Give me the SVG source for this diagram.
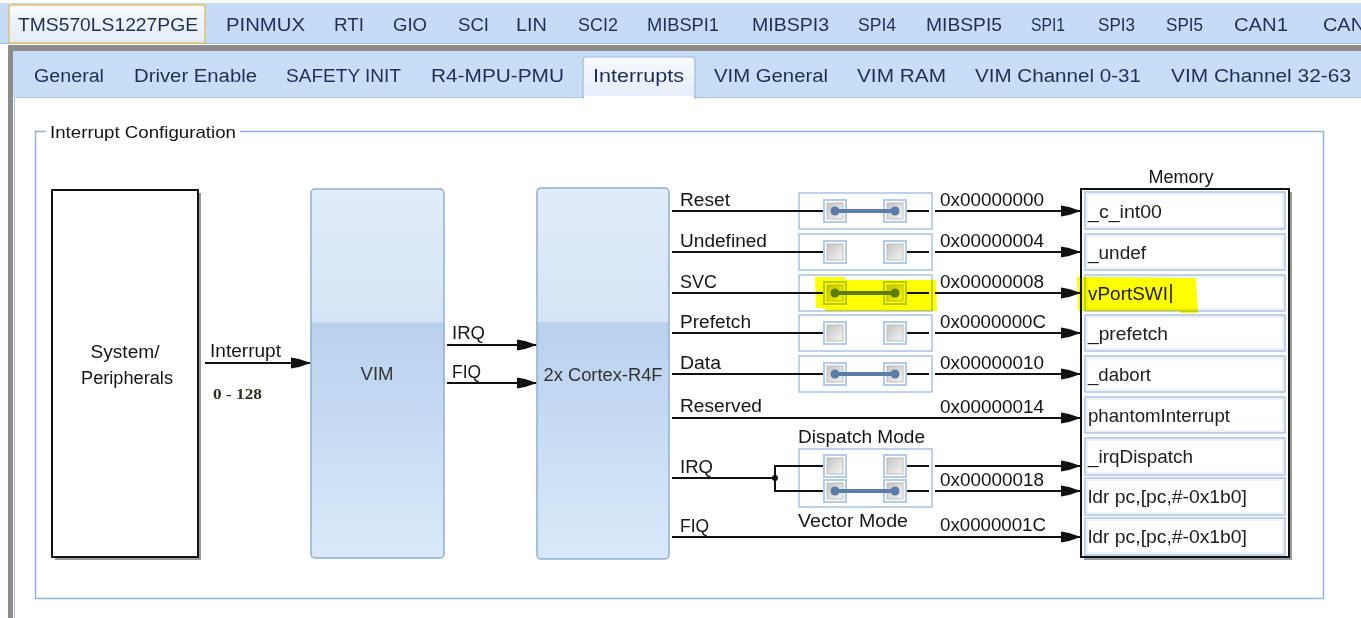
<svg xmlns="http://www.w3.org/2000/svg" width="1361" height="618" viewBox="0 0 1361 618">
<defs>
<style>
.t{font-family:"Liberation Sans",Arial,sans-serif;font-size:18px;fill:#151515}
.tab{font-family:"Liberation Sans",Arial,sans-serif;font-size:18px;fill:#1f2d5a}
.addr{font-family:"Liberation Sans",Arial,sans-serif;font-size:18px;fill:#151515}
.mem{font-family:"Liberation Sans",Arial,sans-serif;font-size:18.5px;fill:#202020}
.wire{stroke:#111;stroke-width:2;fill:none}
.arr{stroke:#111;stroke-width:2;fill:none;marker-end:url(#ah)}
.swbox{fill:#fff;stroke:#a9c3e2;stroke-width:1.5}
.sqo{fill:none;stroke:#b3cbe7;stroke-width:2}
.sqi{fill:url(#sqg);stroke:#bcbcbc;stroke-width:1}
.link{stroke:#5b7ea8;stroke-width:4;stroke-linecap:round}
.dot{fill:#5b7ea8}
.cell{fill:#fff;stroke:#aac3e3;stroke-width:1.5}
.celli{fill:none;stroke:#dbe6f3;stroke-width:1}
.blk{fill:url(#blkg);stroke:#8eafd8;stroke-width:1.5}
.hl{fill:#ffff00;mix-blend-mode:multiply}
</style>
<linearGradient id="blkg" x1="0" y1="0" x2="0" y2="1">
<stop offset="0" stop-color="#e1ecf8"/>
<stop offset="0.36" stop-color="#d6e4f5"/>
<stop offset="0.363" stop-color="#b9d1ee"/>
<stop offset="1" stop-color="#d9e9f9"/>
</linearGradient>
<linearGradient id="sqg" x1="0" y1="0" x2="1" y2="1">
<stop offset="0" stop-color="#c4c4c4"/>
<stop offset="1" stop-color="#f4f4f4"/>
</linearGradient>
<linearGradient id="tabsel" x1="0" y1="0" x2="0" y2="1">
<stop offset="0" stop-color="#f7fafd"/>
<stop offset="1" stop-color="#e2ecf8"/>
</linearGradient>
<marker id="ah" viewBox="0 0 20 14" refX="19" refY="7" markerWidth="20" markerHeight="14" markerUnits="userSpaceOnUse" orient="auto">
<path d="M0,1.5 L8,3 L20,7 L8,11 L0,12.5 Z" fill="#111"/>
</marker>
</defs>

<g id="window">
<rect x="0" y="0" width="1361" height="618" fill="#fff"/>
<rect x="0" y="3" width="1361" height="41" fill="#c6dcf6"/>
<line x1="0" y1="43.5" x2="1361" y2="43.5" stroke="#9ab9df" stroke-width="1"/>
<rect x="9" y="5" width="196" height="38" rx="2" fill="url(#tabsel)" stroke="#e6c067" stroke-width="1.5"/>
<rect x="8" y="45" width="1353" height="6" fill="#8c8c8c"/>
<rect x="8" y="45" width="5" height="573" fill="#8c8c8c"/>
<rect x="13" y="51" width="1348" height="46" fill="#c8ddf6"/>
<rect x="14" y="97" width="1347" height="521" fill="#fff"/>
<line x1="14" y1="97.5" x2="1361" y2="97.5" stroke="#a6c4e8" stroke-width="1"/>
<line x1="14.5" y1="97" x2="14.5" y2="618" stroke="#a6c4e8" stroke-width="1"/>
<rect x="583" y="57" width="112" height="42" rx="3" fill="url(#tabsel)" stroke="#9bbce2" stroke-width="1.2"/>
<rect x="584" y="96" width="110" height="4" fill="#fff"/>
</g>

<g id="tabs-top">
<text class="tab" x="18" y="31" textLength="180" lengthAdjust="spacingAndGlyphs">TMS570LS1227PGE</text>
<text class="tab" x="226" y="31" textLength="79" lengthAdjust="spacingAndGlyphs">PINMUX</text>
<text class="tab" x="334" y="31" textLength="30" lengthAdjust="spacingAndGlyphs">RTI</text>
<text class="tab" x="393" y="31" textLength="34" lengthAdjust="spacingAndGlyphs">GIO</text>
<text class="tab" x="458" y="31" textLength="31" lengthAdjust="spacingAndGlyphs">SCI</text>
<text class="tab" x="516" y="31" textLength="31" lengthAdjust="spacingAndGlyphs">LIN</text>
<text class="tab" x="578" y="31" textLength="40" lengthAdjust="spacingAndGlyphs">SCI2</text>
<text class="tab" x="647" y="31" textLength="72" lengthAdjust="spacingAndGlyphs">MIBSPI1</text>
<text class="tab" x="752" y="31" textLength="77" lengthAdjust="spacingAndGlyphs">MIBSPI3</text>
<text class="tab" x="858" y="31" textLength="38" lengthAdjust="spacingAndGlyphs">SPI4</text>
<text class="tab" x="926" y="31" textLength="76" lengthAdjust="spacingAndGlyphs">MIBSPI5</text>
<text class="tab" x="1031" y="31" textLength="34" lengthAdjust="spacingAndGlyphs">SPI1</text>
<text class="tab" x="1098" y="31" textLength="37" lengthAdjust="spacingAndGlyphs">SPI3</text>
<text class="tab" x="1166" y="31" textLength="37" lengthAdjust="spacingAndGlyphs">SPI5</text>
<text class="tab" x="1234" y="31" textLength="54" lengthAdjust="spacingAndGlyphs">CAN1</text>
<text class="tab" x="1323" y="31" textLength="42" lengthAdjust="spacingAndGlyphs">CAN</text>
</g>

<g id="tabs-sub">
<text class="tab" x="34" y="82" textLength="70" lengthAdjust="spacingAndGlyphs">General</text>
<text class="tab" x="134" y="82" textLength="123" lengthAdjust="spacingAndGlyphs">Driver Enable</text>
<text class="tab" x="286" y="82" textLength="115" lengthAdjust="spacingAndGlyphs">SAFETY INIT</text>
<text class="tab" x="431" y="82" textLength="133" lengthAdjust="spacingAndGlyphs">R4-MPU-PMU</text>
<text class="tab" x="593" y="82" textLength="91" lengthAdjust="spacingAndGlyphs">Interrupts</text>
<text class="tab" x="714" y="82" textLength="114" lengthAdjust="spacingAndGlyphs">VIM General</text>
<text class="tab" x="857" y="82" textLength="89" lengthAdjust="spacingAndGlyphs">VIM RAM</text>
<text class="tab" x="975" y="82" textLength="166" lengthAdjust="spacingAndGlyphs">VIM Channel 0-31</text>
<text class="tab" x="1171" y="82" textLength="180" lengthAdjust="spacingAndGlyphs">VIM Channel 32-63</text>
</g>

<g id="groupbox">
<path d="M46,131.5 L35.5,131.5 L35.5,598.5 L1323.5,598.5 L1323.5,131.5 L240,131.5" fill="none" stroke="#8fb3e0" stroke-width="1.5"/>
<text class="t" x="50" y="138" textLength="186" lengthAdjust="spacingAndGlyphs" style="font-size:17px">Interrupt Configuration</text>
</g>

<g id="node-system">
<rect x="55" y="193" width="146" height="367" fill="#9a9a9a"/>
<rect x="52" y="190" width="146" height="367" fill="#fff" stroke="#111" stroke-width="2"/>
<text class="t" x="125" y="358" text-anchor="middle" textLength="69" lengthAdjust="spacingAndGlyphs">System/</text>
<text class="t" x="127" y="384" text-anchor="middle" textLength="92" lengthAdjust="spacingAndGlyphs">Peripherals</text>
</g>

<g id="node-vim">
<rect class="blk" x="311" y="189" width="133" height="369" rx="4"/>
<text class="t" x="377" y="380" text-anchor="middle" textLength="33" lengthAdjust="spacingAndGlyphs" style="fill:#333">VIM</text>
</g>

<g id="node-cortex">
<rect class="blk" x="537" y="188" width="132" height="371" rx="4"/>
<text class="t" x="603" y="381" text-anchor="middle" textLength="119" lengthAdjust="spacingAndGlyphs" style="fill:#333">2x Cortex-R4F</text>
</g>

<g id="node-switches">
<rect class="swbox" x="799" y="193" width="133" height="36"/>
<rect class="swbox" x="799" y="234" width="133" height="36"/>
<rect class="swbox" x="799" y="275" width="133" height="36"/>
<rect class="swbox" x="799" y="315" width="133" height="36"/>
<rect class="swbox" x="799" y="356" width="133" height="36"/>
<rect class="swbox" x="799" y="449" width="133" height="58"/>
</g>

<g id="connectors">
<line class="arr" x1="205" y1="363" x2="310" y2="363"/>
<line class="arr" x1="447" y1="345" x2="536" y2="345"/>
<line class="arr" x1="447" y1="383" x2="536" y2="383"/>

<line class="wire" x1="672" y1="211" x2="824" y2="211"/>
<line class="wire" x1="906" y1="211" x2="929" y2="211"/>
<line class="arr" x1="935" y1="211" x2="1080" y2="211"/>

<line class="wire" x1="672" y1="252" x2="824" y2="252"/>
<line class="wire" x1="906" y1="252" x2="929" y2="252"/>
<line class="arr" x1="935" y1="252" x2="1080" y2="252"/>

<line class="wire" x1="672" y1="293" x2="824" y2="293"/>
<line class="wire" x1="906" y1="293" x2="929" y2="293"/>
<line class="arr" x1="935" y1="293" x2="1080" y2="293"/>

<line class="wire" x1="672" y1="333" x2="824" y2="333"/>
<line class="wire" x1="906" y1="333" x2="929" y2="333"/>
<line class="arr" x1="935" y1="333" x2="1080" y2="333"/>

<line class="wire" x1="672" y1="374" x2="824" y2="374"/>
<line class="wire" x1="906" y1="374" x2="929" y2="374"/>
<line class="arr" x1="935" y1="374" x2="1080" y2="374"/>

<line class="arr" x1="672" y1="418" x2="1080" y2="418"/>

<line class="wire" x1="672" y1="478" x2="775" y2="478"/>
<polyline class="wire" points="824,466 775,466 775,491 824,491"/>
<circle cx="775" cy="478" r="3" fill="#111"/>
<line class="wire" x1="906" y1="466" x2="929" y2="466"/>
<line class="wire" x1="906" y1="491" x2="929" y2="491"/>
<line class="arr" x1="935" y1="466" x2="1080" y2="466"/>
<line class="arr" x1="935" y1="491" x2="1080" y2="491"/>

<line class="arr" x1="672" y1="537" x2="1080" y2="537"/>
</g>

<g id="switch-elements">
<g id="sw-reset">
<rect class="sqo" x="824" y="200" width="22" height="22"/><rect class="sqi" x="827" y="203" width="16" height="16"/>
<rect class="sqo" x="884" y="200" width="22" height="22"/><rect class="sqi" x="887" y="203" width="16" height="16"/>
<line class="link" x1="835" y1="211" x2="895" y2="211"/><circle class="dot" cx="835" cy="211" r="4.5"/><circle class="dot" cx="895" cy="211" r="4.5"/>
</g>
<g id="sw-undef">
<rect class="sqo" x="824" y="241" width="22" height="22"/><rect class="sqi" x="827" y="244" width="16" height="16"/>
<rect class="sqo" x="884" y="241" width="22" height="22"/><rect class="sqi" x="887" y="244" width="16" height="16"/>
</g>
<g id="sw-svc">
<rect class="sqo" x="824" y="282" width="22" height="22"/><rect class="sqi" x="827" y="285" width="16" height="16"/>
<rect class="sqo" x="884" y="282" width="22" height="22"/><rect class="sqi" x="887" y="285" width="16" height="16"/>
<line class="link" x1="835" y1="293" x2="895" y2="293"/><circle class="dot" cx="835" cy="293" r="4.5"/><circle class="dot" cx="895" cy="293" r="4.5"/>
</g>
<g id="sw-prefetch">
<rect class="sqo" x="824" y="322" width="22" height="22"/><rect class="sqi" x="827" y="325" width="16" height="16"/>
<rect class="sqo" x="884" y="322" width="22" height="22"/><rect class="sqi" x="887" y="325" width="16" height="16"/>
</g>
<g id="sw-data">
<rect class="sqo" x="824" y="363" width="22" height="22"/><rect class="sqi" x="827" y="366" width="16" height="16"/>
<rect class="sqo" x="884" y="363" width="22" height="22"/><rect class="sqi" x="887" y="366" width="16" height="16"/>
<line class="link" x1="835" y1="374" x2="895" y2="374"/><circle class="dot" cx="835" cy="374" r="4.5"/><circle class="dot" cx="895" cy="374" r="4.5"/>
</g>
<g id="sw-irq">
<rect class="sqo" x="824" y="455" width="22" height="22"/><rect class="sqi" x="827" y="458" width="16" height="16"/>
<rect class="sqo" x="884" y="455" width="22" height="22"/><rect class="sqi" x="887" y="458" width="16" height="16"/>
<rect class="sqo" x="824" y="480" width="22" height="22"/><rect class="sqi" x="827" y="483" width="16" height="16"/>
<rect class="sqo" x="884" y="480" width="22" height="22"/><rect class="sqi" x="887" y="483" width="16" height="16"/>
<line class="link" x1="835" y1="491" x2="895" y2="491"/><circle class="dot" cx="835" cy="491" r="4.5"/><circle class="dot" cx="895" cy="491" r="4.5"/>
</g>
</g>

<g id="labels">
<text class="t" x="210" y="357" textLength="71" lengthAdjust="spacingAndGlyphs">Interrupt</text>
<text x="213" y="399" textLength="49" lengthAdjust="spacingAndGlyphs" style="font-family:'Liberation Serif','Times New Roman',serif;font-size:15px;font-weight:bold;fill:#2e2e1e">0 - 128</text>
<text class="t" x="452" y="339" textLength="33" lengthAdjust="spacingAndGlyphs">IRQ</text>
<text class="t" x="452" y="378" textLength="29" lengthAdjust="spacingAndGlyphs">FIQ</text>
<text class="t" x="680" y="206" textLength="50" lengthAdjust="spacingAndGlyphs">Reset</text>
<text class="t" x="680" y="247" textLength="87" lengthAdjust="spacingAndGlyphs">Undefined</text>
<text class="t" x="680" y="288" textLength="37" lengthAdjust="spacingAndGlyphs">SVC</text>
<text class="t" x="680" y="328" textLength="71" lengthAdjust="spacingAndGlyphs">Prefetch</text>
<text class="t" x="680" y="369" textLength="41" lengthAdjust="spacingAndGlyphs">Data</text>
<text class="t" x="680" y="412" textLength="82" lengthAdjust="spacingAndGlyphs">Reserved</text>
<text class="t" x="680" y="473" textLength="33" lengthAdjust="spacingAndGlyphs">IRQ</text>
<text class="t" x="680" y="532" textLength="29" lengthAdjust="spacingAndGlyphs">FIQ</text>
<text class="t" x="798" y="443" textLength="127" lengthAdjust="spacingAndGlyphs">Dispatch Mode</text>
<text class="t" x="798" y="527" textLength="110" lengthAdjust="spacingAndGlyphs">Vector Mode</text>
<text class="addr" x="940" y="206" textLength="104" lengthAdjust="spacingAndGlyphs">0x00000000</text>
<text class="addr" x="940" y="247" textLength="104" lengthAdjust="spacingAndGlyphs">0x00000004</text>
<text class="addr" x="940" y="288" textLength="104" lengthAdjust="spacingAndGlyphs">0x00000008</text>
<text class="addr" x="940" y="328" textLength="106" lengthAdjust="spacingAndGlyphs">0x0000000C</text>
<text class="addr" x="940" y="369" textLength="104" lengthAdjust="spacingAndGlyphs">0x00000010</text>
<text class="addr" x="940" y="413" textLength="104" lengthAdjust="spacingAndGlyphs">0x00000014</text>
<text class="addr" x="940" y="486" textLength="104" lengthAdjust="spacingAndGlyphs">0x00000018</text>
<text class="addr" x="940" y="531" textLength="106" lengthAdjust="spacingAndGlyphs">0x0000001C</text>
</g>

<g id="node-memory">
<text class="t" x="1181" y="183" text-anchor="middle" textLength="65" lengthAdjust="spacingAndGlyphs">Memory</text>
<rect x="1084" y="192" width="208" height="368" fill="#9a9a9a"/>
<rect x="1081" y="189" width="208" height="368" fill="#fff" stroke="#111" stroke-width="2"/>
<rect class="cell" x="1085" y="192" width="200" height="37"/><rect class="celli" x="1087" y="194" width="196" height="33"/>
<rect class="cell" x="1085" y="234" width="200" height="36"/><rect class="celli" x="1087" y="236" width="196" height="32"/>
<rect class="cell" x="1085" y="275" width="200" height="36"/><rect class="celli" x="1087" y="277" width="196" height="32"/>
<rect class="cell" x="1085" y="315" width="200" height="36"/><rect class="celli" x="1087" y="317" width="196" height="32"/>
<rect class="cell" x="1085" y="356" width="200" height="36"/><rect class="celli" x="1087" y="358" width="196" height="32"/>
<rect class="cell" x="1085" y="397" width="200" height="36"/><rect class="celli" x="1087" y="399" width="196" height="32"/>
<rect class="cell" x="1085" y="438" width="200" height="37"/><rect class="celli" x="1087" y="440" width="196" height="33"/>
<rect class="cell" x="1085" y="478" width="200" height="37"/><rect class="celli" x="1087" y="480" width="196" height="33"/>
<rect class="cell" x="1085" y="518" width="200" height="37"/><rect class="celli" x="1087" y="520" width="196" height="33"/>
<text class="mem" x="1088" y="218" textLength="74" lengthAdjust="spacingAndGlyphs">_c_int00</text>
<text class="mem" x="1088" y="259" textLength="58" lengthAdjust="spacingAndGlyphs">_undef</text>
<text class="mem" x="1088" y="300" textLength="80" lengthAdjust="spacingAndGlyphs">vPortSWI</text>
<line x1="1171" y1="284" x2="1171" y2="303" stroke="#111" stroke-width="1.5"/>
<text class="mem" x="1088" y="340" textLength="80" lengthAdjust="spacingAndGlyphs">_prefetch</text>
<text class="mem" x="1088" y="381" textLength="63" lengthAdjust="spacingAndGlyphs">_dabort</text>
<text class="mem" x="1088" y="422" textLength="142" lengthAdjust="spacingAndGlyphs">phantomInterrupt</text>
<text class="mem" x="1088" y="463" textLength="105" lengthAdjust="spacingAndGlyphs">_irqDispatch</text>
<text class="mem" x="1088" y="503" textLength="159" lengthAdjust="spacingAndGlyphs">ldr pc,[pc,#-0x1b0]</text>
<text class="mem" x="1088" y="543" textLength="159" lengthAdjust="spacingAndGlyphs">ldr pc,[pc,#-0x1b0]</text>
</g>

<g id="highlights">
<path class="hl" d="M815,277 L845,277 L845,280 L936,280 L937,311 L825,311 L825,308 L816,308 Z"/>
<path class="hl" d="M1077,277 L1196,278 L1198,313 L1180,313 L1180,311 L1078,311 Z"/>
</g>
</svg>
